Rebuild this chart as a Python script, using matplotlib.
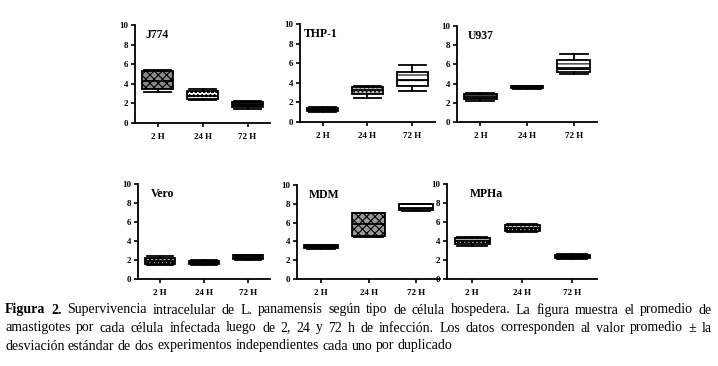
import matplotlib
matplotlib.use("Agg")
import matplotlib.pyplot as plt

plt.rcParams['font.family'] = ['Liberation Serif', 'DejaVu Serif']
plt.rcParams['hatch.linewidth'] = 0.8

times = ['2 H', '24 H', '72 H']
cells = ['J774', 'THP-1', 'U937', 'Vero', 'MDM', 'MPHa']

# (whislo, q1, med, q3, whishi) per time point
j774 = [(3.2, 3.5, 4.3, 5.3, 5.4), (2.3, 2.5, 2.8, 3.3, 3.5), (1.4, 1.6, 1.8, 2.1, 2.2)]
thp1 = [(1.0, 1.1, 1.25, 1.4, 1.5), (2.5, 2.9, 3.3, 3.6, 3.7), (3.2, 3.7, 4.3, 5.1, 5.8)]
u937 = [(2.2, 2.4, 2.6, 2.9, 3.0), (3.4, 3.5, 3.7, 3.8, 3.8), (5.0, 5.2, 5.6, 6.5, 7.1)]
vero = [(1.5, 1.6, 1.9, 2.2, 2.4), (1.5, 1.6, 1.75, 1.9, 2.0), (2.0, 2.1, 2.3, 2.5, 2.5)]
mdm = [(3.2, 3.3, 3.45, 3.6, 3.6), (4.5, 4.6, 5.8, 7.0, 7.0), (7.2, 7.3, 7.6, 8.0, 8.0)]
mpha = [(3.5, 3.7, 4.0, 4.3, 4.4), (4.9, 5.1, 5.4, 5.7, 5.8), (2.1, 2.2, 2.3, 2.5, 2.6)]
data = [j774, thp1, u937, vero, mdm, mpha]

# fill colour and hatch of each box
styles = [
    [('#8a8a8a', 'xxxx'), ('white', 'oooo'), ('#222222', '---')],
    [('#333333', '----'), ('#bbbbbb', '....'), ('white', '---')],
    [('#999999', '-----'), ('#222222', '---'), ('white', '---')],
    [('#aaaaaa', 'oooo'), ('#222222', '---'), ('#555555', '---')],
    [('#111111', '---'), ('#999999', 'xxxx'), ('white', '---')],
    [('#aaaaaa', 'oooo'), ('#cccccc', 'oooo'), ('#111111', '---')],
]

# axes rectangles in pixels: left, right, y0 pixel, y10 pixel
rects = [(135, 270, 123, 25), (300, 435, 122, 24), (457, 597, 122, 26),
         (138, 270, 279, 184), (297, 440, 279, 185), (447, 597, 279, 184)]
label_x = [0.08, 0.03, 0.08, 0.1, 0.08, 0.15]

W, H = 718, 366
fig = plt.figure(figsize=(W / 100, H / 100), dpi=100)

for i, (l, r, yb, yt) in enumerate(rects):
    ax = fig.add_axes([l / W, (H - yb) / H, (r - l) / W, (yb - yt) / H])
    stats = []
    for t, (lo, q1, med, q3, hi) in zip(times, data[i]):
        stats.append(dict(whislo=lo, q1=q1, med=med, q3=q3, whishi=hi, fliers=[], label=t))
    bp = ax.bxp(stats, positions=[1, 2, 3], widths=0.7, patch_artist=True,
                showfliers=False,
                boxprops=dict(linewidth=1.3, edgecolor='black'),
                medianprops=dict(color='black', linewidth=1.3),
                whiskerprops=dict(color='black', linewidth=1.3),
                capprops=dict(color='black', linewidth=1.3))
    for patch, (fc, hatch) in zip(bp['boxes'], styles[i]):
        patch.set_facecolor(fc)
        patch.set_hatch(hatch)
    for cap in bp['caps']:
        x = cap.get_xdata()
        m = (x[0] + x[1]) / 2
        cap.set_xdata([m - 0.3, m + 0.3])
    ax.set_xlim(0.5, 3.5)
    ax.set_ylim(0, 10)
    ax.set_yticks([0, 2, 4, 6, 8, 10])
    ax.spines['top'].set_visible(False)
    ax.spines['right'].set_visible(False)
    ax.spines['left'].set_linewidth(1.3)
    ax.spines['bottom'].set_linewidth(1.3)
    ax.tick_params(axis='y', length=3, width=1.2, pad=2, labelsize=6.5)
    ax.tick_params(axis='x', length=3, width=1.2, pad=4, labelsize=6.5)
    for lab in ax.get_xticklabels() + ax.get_yticklabels():
        lab.set_fontweight('bold')
    ax.text(label_x[i], 0.96, cells[i], transform=ax.transAxes, fontsize=8.5,
            fontweight='bold', va='top', ha='left')

# caption, justified lines
lines = [
    "Supervivencia intracelular de L. panamensis según tipo de célula hospedera. La figura muestra el promedio de",
    "amastigotes por cada célula infectada  luego de 2, 24 y 72 h de infección. Los datos corresponden al valor promedio ± la",
    "desviación estándar de dos experimentos independientes cada uno por duplicado",
]
x0, x1 = 5, 712
ys = [310, 328, 346]
fs = 10.0
fig.canvas.draw()
renderer = fig.canvas.get_renderer()

def word_width(w, weight='normal'):
    t = fig.text(0, 0, w, fontsize=fs, fontweight=weight)
    bb = t.get_window_extent(renderer)
    t.remove()
    return bb.width

for k, line in enumerate(lines):
    words = [(w, 'normal') for w in line.split()]
    if k == 0:
        words = [('Figura', 'bold'), ('2.', 'bold')] + words
    widths = [word_width(w, wt) for w, wt in words]
    if k < 2:
        gap = (x1 - x0 - sum(widths)) / (len(words) - 1)
    else:
        gap = word_width('a b') - word_width('ab')
    x = x0
    for (w, wt), ww in zip(words, widths):
        fig.text(x / W, (H - ys[k]) / H, w, fontsize=fs, fontweight=wt,
                 va='center', ha='left')
        x += ww + gap

fig.savefig('out.png', dpi=100)
